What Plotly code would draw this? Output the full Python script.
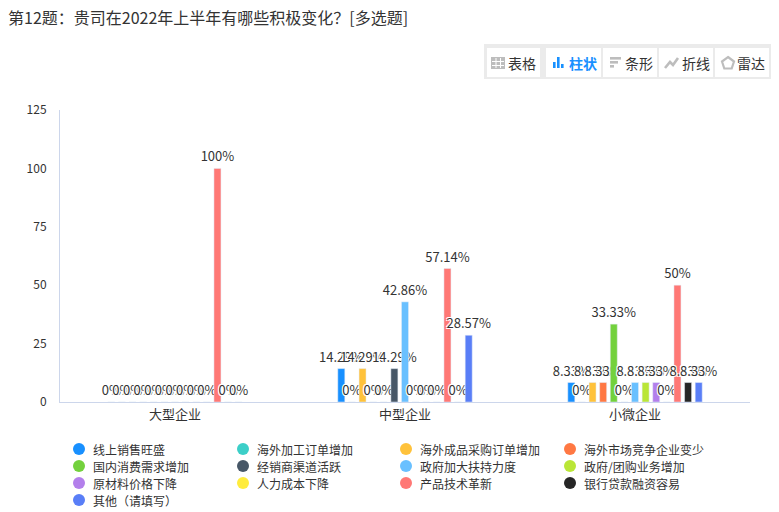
import plotly.graph_objects as go

# data
categories = ["大型企业", "中型企业", "小微企业"]
options = [
    "线上销售旺盛", "海外加工订单增加", "海外成品采购订单增加", "海外市场竞争企业变少",
    "国内消费需求增加", "经销商渠道活跃", "政府加大扶持力度", "政府/团购业务增加",
    "原材料价格下降", "人力成本下降", "产品技术革新", "银行贷款融资容易",
    "其他（请填写）",
]
large = [0, 0, 0, 0, 0, 0, 0, 0, 0, 0, 100, 0, 0]
medium = [14.29, 0, 14.29, 0, 0, 14.29, 42.86, 0, 0, 0, 57.14, 0, 28.57]
small = [8.33, 0, 8.33, 8.33, 33.33, 0, 8.33, 8.33, 8.33, 0, 50, 8.33, 8.33]
y_ticks = [0, 25, 50, 75, 100, 125]

COLORS = [
    '#1890FF', '#3CCFC8', '#FFC23B', '#FF7843', '#73D13D', '#475767', '#69C0FF',
    '#BAE637', '#B37FEB', '#FFEC3D', '#FF7875', '#262626', '#597EF7',
]

FONT = "Microsoft YaHei, Noto Sans CJK SC, sans-serif"
TEXT = '#333333'
AXIS = '#CCD6EB'

# plot area in pixels (used to place the toolbar and legend)
L, R, T, B = 60, 750, 110, 402
W, H = R - L, B - T


def fx(px):
    return (px - L) / W


def fy(py):
    return (B - py) / H


fig = go.Figure()

for i, name in enumerate(options):
    vals = [large[i], medium[i], small[i]]
    fig.add_trace(go.Bar(
        x=categories, y=vals, name=name,
        marker_color=COLORS[i],
        text=[f"{v:g}%" for v in vals],
        textposition='outside',
        constraintext='none',
        cliponaxis=False,
        textfont=dict(size=13, color=TEXT, family=FONT,
                      shadow="1px 1px 0 #fff, -1px -1px 0 #fff, 1px -1px 0 #fff, -1px 1px 0 #fff"),
        showlegend=False,
        hoverinfo='skip',
    ))

shapes = []
annos = []


def rect(x0, y0, x1, y1, fill):
    shapes.append(dict(type='rect', xref='paper', yref='paper',
                       x0=fx(x0), x1=fx(x1), y0=fy(y0), y1=fy(y1),
                       fillcolor=fill, line=dict(width=0), layer='above'))


def path(points, closed=False, width=2.2):
    d = "M " + " L ".join(f"{fx(a)},{fy(b)}" for a, b in points)
    if closed:
        d += " Z"
    shapes.append(dict(type='path', xref='paper', yref='paper', path=d,
                       line=dict(color='#BDBDBD', width=width), layer='above'))


# legend: 4 columns of circles + labels
legend_cols = [79, 243, 406, 570]
legend_rows = [449, 466, 483, 500]
for i, name in enumerate(options):
    cx, cy = legend_cols[i % 4], legend_rows[i // 4]
    shapes.append(dict(type='circle', xref='paper', yref='paper',
                       x0=fx(cx - 6), x1=fx(cx + 6), y0=fy(cy + 6), y1=fy(cy - 6),
                       fillcolor=COLORS[i], line=dict(width=0)))
    annos.append(dict(xref='paper', yref='paper', x=fx(cx + 12), y=fy(cy), text=name,
                      showarrow=False, xanchor='left', yanchor='middle',
                      font=dict(size=12, family=FONT, color=TEXT)))

# toolbar decoration
rect(484, 44, 771, 79, '#EBEBEB')
for x0, x1 in [(487, 540), (546, 601), (603, 657), (659, 713), (715, 769)]:
    rect(x0, 48, x1, 77, '#FFFFFF')

rect(491, 57, 505, 69, '#BDBDBD')
for yy in (61, 65):
    rect(492, yy, 504, yy + 1, '#FFFFFF')
for xx in (495.5, 500):
    rect(xx, 58, xx + 1, 68, '#FFFFFF')
for x0, top in [(553, 62), (557, 57), (561, 64)]:
    rect(x0, top, x0 + 2.6, 68, '#1890FF')
for y0, x1 in [(57, 621), (61, 618), (65, 614)]:
    rect(610, y0, x1, y0 + 2.6, '#BDBDBD')
path([(665, 68), (670, 62), (673, 65), (678, 58)], width=2.6)
path([(728, 57), (734, 61.5), (731.7, 68.5), (724.3, 68.5), (722, 61.5)], closed=True)

for label, cx, active in [("表格", 522, False), ("柱状", 583, True), ("条形", 639, False),
                           ("折线", 696, False), ("雷达", 751, False)]:
    annos.append(dict(xref='paper', yref='paper', x=fx(cx), y=fy(63),
                      text=f"<b>{label}</b>" if active else label,
                      showarrow=False, xanchor='center', yanchor='middle',
                      font=dict(size=14, family=FONT, color='#1890FF' if active else TEXT)))

# title
annos.append(dict(xref='paper', yref='paper', x=fx(6), y=fy(17),
                  text="第12题：贵司在2022年上半年有哪些积极变化？[多选题]",
                  showarrow=False, xanchor='left', yanchor='middle',
                  font=dict(size=16, family=FONT, color=TEXT)))

fig.update_layout(
    width=779, height=512,
    margin=dict(l=L, r=779 - R, t=T, b=512 - B, autoexpand=False),
    paper_bgcolor='white', plot_bgcolor='white',
    font=dict(family=FONT, color=TEXT, size=12),
    barmode='group', bargap=0.4, bargroupgap=0.34,
    showlegend=False,
    shapes=shapes, annotations=annos,
)
fig.update_xaxes(showline=True, linecolor=AXIS, linewidth=1, showgrid=False,
                 ticks='', tickfont=dict(size=13, color=TEXT), ticklabelstandoff=0)
fig.update_yaxes(range=[0, 125], tickvals=y_ticks, showline=True, linecolor=AXIS,
                 linewidth=1, showgrid=False, zeroline=False, ticks='',
                 tickfont=dict(size=12, color=TEXT), ticklabelstandoff=10)

# page has a default 8px body margin; drop it so the figure fills the window
fig.write_html("out.html", config={'displayModeBar': False},
               post_script="document.body.style.margin='0';")
